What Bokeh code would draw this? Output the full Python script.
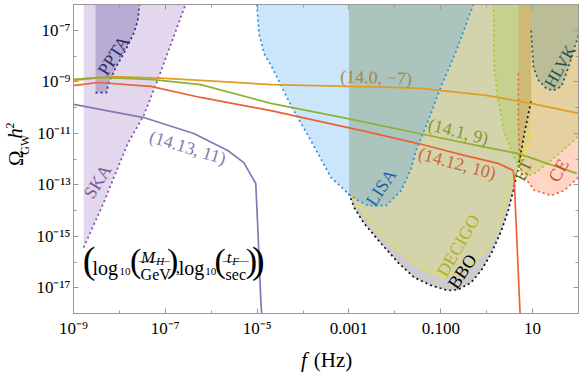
from math import pi
from bokeh.plotting import figure
from bokeh.layouts import row, column
from bokeh.models import (Range1d, FixedTicker, LogAxis, Label,
                          CustomJSTickFormatter, BoxAnnotation)
from bokeh.embed import file_html
from bokeh.resources import INLINE

FONT = "Liberation Serif"

# ---------------- axes ----------------
x_tick_values = [1e-9, 1e-7, 1e-5, 1e-3, 1e-1, 1e1]
x_tick_labels = ["10⁻⁹", "10⁻⁷", "10⁻⁵", "0.001", "0.100", "10"]
x_minor_values = [1e-8, 1e-6, 1e-4, 1e-2, 1e0, 1e2]
y_tick_values = [1e-7, 1e-9, 1e-11, 1e-13, 1e-15, 1e-17]
y_tick_labels = ["10⁻⁷", "10⁻⁹", "10⁻¹¹", "10⁻¹³", "10⁻¹⁵", "10⁻¹⁷"]
y_minor_values = [1e-6, 1e-8, 1e-10, 1e-12, 1e-14, 1e-16, 1e-18]

# ---------------- sensitivity curves (log10 f, log10 Omega h^2) ----------------
ska_log_f = [-8.78, -8.35, -7.82, -7.47, -7.17, -6.56]
ska_log_omega = [-15.44, -13.73, -11.40, -10.31, -8.95, -6.0]

ppta_log_f = [-8.52, -8.28, -8.24, -8.08, -7.87, -7.69, -7.60, -7.56]
ppta_log_omega = [-9.42, -9.42, -9.07, -8.45, -7.79, -7.13, -6.62, -6.0]

lisa_log_f = [-5.006, -4.96, -4.85, -4.66, -4.48, -4.24, -3.83, -3.39, -3.02,
              -2.80, -2.58, -2.19, -1.86, -1.645, -1.54, -1.27, -1.03, -0.66, -0.29]
lisa_log_omega = [-6.0, -7.13, -7.90, -8.49, -9.15, -10.0, -11.28, -12.72, -13.34,
                  -13.61, -13.81, -13.81, -13.22, -12.37, -11.67, -10.50, -9.34, -7.79, -6.0]

bbo_log_f = [-3.0, -2.89, -2.67, -2.30, -1.93, -1.58, -1.21, -0.84, -0.62, -0.34,
             -0.12, 0.10, 0.32, 0.47, 0.58, 0.69, 0.82, 0.97]
bbo_log_omega = [-13.34, -13.88, -14.50, -15.28, -16.02, -16.60, -16.91, -17.11, -17.07,
                 -16.80, -16.33, -15.67, -14.78, -14.0, -13.22, -12.33, -11.01, -9.73]

decigo_log_f = [-3.0, -2.80, -2.45, -1.93, -1.43, -0.99, -0.62, -0.27, 0.035, 0.25,
                0.38, 0.54, 0.76, 0.93, 0.97]
decigo_log_omega = [-13.32, -13.81, -14.66, -15.55, -16.21, -16.60, -16.45, -16.06, -15.44,
                    -14.66, -13.88, -12.95, -12.06, -11.28, -10.9]

et_log_f = [0.145, 0.166, 0.25, 0.385, 0.60, 0.76, 0.91, 1.08, 1.48, 1.91, 2.0]
et_log_omega = [-6.0, -8.45, -9.73, -11.01, -11.94, -12.45, -12.64, -12.52, -11.94, -11.28, -11.09]

ce_log_f = [0.69, 0.69, 0.71, 0.76, 1.04, 1.41, 1.69, 2.0]
ce_log_omega = [-8.68, -10.5, -11.94, -12.56, -13.22, -13.42, -13.22, -12.72]

hlvk_log_f = [0.97, 0.995, 1.02, 1.13, 1.30, 1.45, 1.63, 1.78, 1.91, 2.0]
hlvk_log_omega = [-7.01, -7.79, -8.45, -8.95, -9.26, -9.34, -9.18, -8.45, -7.67, -7.20]

# ---------------- GW spectra (log10 f, log10 Omega h^2) ----------------
orange_log_f = [-9.0, -8.19, -7.10, -6.23, -4.70, -3.02, -2.02, -1.43, -0.01, 0.97, 2.0]
orange_log_omega = [-8.95, -8.80, -8.86, -8.95, -9.11, -9.18, -9.22, -9.26, -9.53, -9.84, -10.23]

green_log_f = [-9.0, -8.41, -7.32, -6.23, -4.70, -3.02, -1.47, -0.01, 0.69, 1.96]
green_log_omega = [-8.91, -8.83, -8.91, -9.11, -9.84, -10.43, -11.01, -11.55, -11.79, -12.56]

red_log_f = [-9.0, -8.47, -7.32, -6.23, -4.70, -3.02, -2.74, -1.49, -0.49, 0.25, 0.58, 0.60, 0.74]
red_log_omega = [-9.15, -9.03, -9.18, -9.61, -10.12, -10.78, -10.89, -11.40, -11.86, -12.17,
                 -12.45, -12.83, -18.5]

purple_log_f = [-9.0, -7.47, -6.38, -5.64, -5.29, -5.03, -4.98, -4.92, -4.886]
purple_log_omega = [-9.88, -10.39, -11.01, -11.67, -12.14, -12.95, -14.89, -17.49, -18.5]

X_MIN, X_MAX = 1e-9, 1e2
Y_MIN, Y_MAX = 1e-18, 1e-6

LEFT_W = 30
TOP_H = 345
TOTAL_W, TOTAL_H = 581, 372

p = figure(width=TOTAL_W - LEFT_W, height=TOP_H, x_axis_type="log", y_axis_type="log",
           x_range=Range1d(X_MIN, X_MAX), y_range=Range1d(Y_MIN, Y_MAX),
           output_backend="svg", toolbar_location=None,
           min_border_left=43, min_border_right=3, min_border_top=4, min_border_bottom=32)
p.xgrid.grid_line_color = None
p.ygrid.grid_line_color = None
p.outline_line_color = "#9a9a9a"
p.background_fill_color = "white"
p.border_fill_color = "white"

label_code = """
let best = 0, bd = 1e9;
for (let i = 0; i < vals.length; i++) {
  const d = Math.abs(Math.log10(tick) - Math.log10(vals[i]));
  if (d < bd) { bd = d; best = i; }
}
return labs[best];
"""

def style_axis(ax, standoff, size="17px"):
    ax.axis_line_color = "#9a9a9a"
    ax.major_tick_line_color = "#9a9a9a"
    ax.minor_tick_line_color = "#9a9a9a"
    ax.major_tick_in = 5
    ax.major_tick_out = 0
    ax.minor_tick_in = 3
    ax.minor_tick_out = 0
    ax.major_label_text_font = FONT
    ax.major_label_text_font_size = size
    ax.major_label_text_color = "black"
    ax.major_label_standoff = standoff

xa = p.xaxis[0]
xa.ticker = FixedTicker(ticks=x_tick_values, minor_ticks=x_minor_values)
xa.formatter = CustomJSTickFormatter(args=dict(vals=x_tick_values, labs=x_tick_labels), code=label_code)
style_axis(xa, 5)
ya = p.yaxis[0]
ya.ticker = FixedTicker(ticks=y_tick_values, minor_ticks=y_minor_values)
ya.formatter = CustomJSTickFormatter(args=dict(vals=y_tick_values, labs=y_tick_labels), code=label_code)
style_axis(ya, 3)

top_ax = LogAxis(ticker=FixedTicker(ticks=x_tick_values, minor_ticks=x_minor_values),
                 formatter=CustomJSTickFormatter(code="return ''"))
style_axis(top_ax, 0, "1px")
p.add_layout(top_ax, "above")
right_ax = LogAxis(ticker=FixedTicker(ticks=y_tick_values, minor_ticks=y_minor_values),
                   formatter=CustomJSTickFormatter(code="return ''"))
style_axis(right_ax, 0, "1px")
p.add_layout(right_ax, "right")


def region(lf, lo, fill, alpha):
    fs = [10 ** v for v in lf]
    om = [10 ** v for v in lo]
    xs = [fs[0]] + fs + [fs[-1]]
    ys = [Y_MAX] + om + [Y_MAX]
    p.patch(xs, ys, fill_color=fill, fill_alpha=alpha, line_color=None)


def boundary(lf, lo, color):
    p.line([10 ** v for v in lf], [10 ** v for v in lo], line_color=color,
           line_dash="2 3", line_width=1.7)


region(ska_log_f, ska_log_omega, "#9e7cc1", 0.30)
region(ppta_log_f, ppta_log_omega, "#5a4a9a", 0.30)
region(bbo_log_f, bbo_log_omega, "#808080", 0.40)
region(decigo_log_f, decigo_log_omega, "#ebeb5a", 0.28)
region(lisa_log_f, lisa_log_omega, "#3fa0ef", 0.27)
region(ce_log_f, ce_log_omega, "#ff642d", 0.27)
region(et_log_f, et_log_omega, "#a0c83c", 0.28)
region(hlvk_log_f, hlvk_log_omega, "#3c8278", 0.25)

boundary(ska_log_f, ska_log_omega, "#7a50b0")
boundary(ppta_log_f, ppta_log_omega, "#2a2a80")
boundary(bbo_log_f, bbo_log_omega, "#111111")
boundary(decigo_log_f, decigo_log_omega, "#f2ea00")
boundary(lisa_log_f, lisa_log_omega, "#2a8ee8")
boundary(et_log_f, et_log_omega, "#a8c828")
boundary(ce_log_f, ce_log_omega, "#f06030")
boundary(hlvk_log_f, hlvk_log_omega, "#2a5a5a")

for lf, lo, col in [(orange_log_f, orange_log_omega, "#E19C24"),
                    (green_log_f, green_log_omega, "#8FB032"),
                    (red_log_f, red_log_omega, "#EB6235"),
                    (purple_log_f, purple_log_omega, "#8778B3")]:
    p.line([10 ** v for v in lf], [10 ** v for v in lo], line_color=col, line_width=1.7)


def put(fig, text, x, y, size, color="black", angle=0.0, style="normal",
        align="center", baseline="middle"):
    fig.add_layout(Label(x=x, y=y, text=text, text_font=FONT,
                         text_font_size=f"{size}px", text_color=color,
                         angle=angle * pi / 180, text_font_style=style,
                         text_align=align, text_baseline=baseline))


def putl(text, lx, ly, size, color="black", angle=0.0, style="normal",
         align="center", baseline="middle"):
    put(p, text, 10 ** lx, 10 ** ly, size, color, angle, style, align, baseline)

# region labels
putl("SKA", -8.476, -12.874, 18, "#7a5a9a", 58)
putl("PPTA", -8.127, -7.981, 18, "#2a2a6a", 57)
putl("LISA", -2.300, -13.107, 18, "#1f5fa8", 56)
putl("DECIGO", -0.619, -15.359, 18, "#b4b01c", 60)
putl("BBO", -0.532, -16.369, 18, "black", 56)
putl("ET", 0.799, -12.447, 17, "#5a7a1a", 65)
putl("CE", 1.563, -12.447, 18, "#c8502a", 60)
putl("HLVK", 1.600, -8.408, 17, "#1f5050", 60)

# curve labels
putl("(14.0, −7)", -2.409, -8.835, 18, "#a8893a", -2)
putl("(14.1, 9)", -0.619, -10.932, 18, "#7f9a2c", -14)
putl("(14.12, 10)", -0.641, -12.175, 18, "#c8683a", -15)
putl("(14.13, 11)", -6.512, -11.553, 18, "#8778B3", -17)

# formula (log10(M_H/GeV), log10(t_F/sec))
putl("(", -8.662, -15.922, 38)
putl("log", -8.585, -16.214, 20, align="left", baseline="alphabetic")
putl("10", -7.996, -16.369, 11, align="left", baseline="alphabetic")
putl("(", -7.647, -15.942, 34)
putl("M", -7.527, -15.825, 17, style="italic", align="left", baseline="alphabetic")
putl("H", -7.199, -15.942, 11, style="italic", align="left", baseline="alphabetic")
putl("GeV", -7.210, -16.485, 16, baseline="alphabetic")
putl(")", -6.839, -15.942, 34)
putl(",", -6.774, -16.214, 17, align="left", baseline="alphabetic")
putl("log", -6.708, -16.214, 20, align="left", baseline="alphabetic")
putl("10", -6.130, -16.369, 11, align="left", baseline="alphabetic")
putl("(", -5.803, -15.942, 34)
putl("t", -5.661, -15.825, 17, style="italic", align="left", baseline="alphabetic")
putl("F", -5.541, -15.942, 11, style="italic", align="left", baseline="alphabetic")
putl("sec", -5.464, -16.485, 16, baseline="alphabetic")
putl(")", -5.126, -15.942, 34)
putl(")", -4.973, -15.922, 38)
for l0, l1 in [(-7.581, -6.905), (-5.748, -5.181)]:
    p.add_layout(BoxAnnotation(left=10 ** l0, right=10 ** l1, bottom=10 ** -15.981,
                               top=10 ** -15.981, fill_alpha=0, line_color="black",
                               line_width=1))

# ---------------- axis titles in side strips ----------------
def strip(w, h):
    f = figure(width=w, height=h, x_range=Range1d(0, w), y_range=Range1d(h, 0),
               output_backend="svg", toolbar_location=None,
               min_border=0, min_border_left=0, min_border_right=0,
               min_border_top=0, min_border_bottom=0)
    f.axis.visible = False
    f.grid.visible = False
    f.outline_line_color = None
    f.background_fill_color = "white"
    f.border_fill_color = "white"
    return f

left = strip(LEFT_W, TOP_H)
put(left, "Ω", 15.5, 171.5, 21, angle=90)
put(left, "GW", 24, 156.5, 12, angle=90)
put(left, "h", 14.5, 144, 21, style="italic", angle=90)
put(left, "2", 9.5, 135, 12, angle=90)

bottom = strip(TOTAL_W, TOTAL_H - TOP_H)
put(bottom, "f", 303.5, 14, 21, style="italic")
put(bottom, "(Hz)", 332.5, 14, 21)

layout = column(row(left, p), bottom)
open("out.html", "w").write(file_html(layout, INLINE))
